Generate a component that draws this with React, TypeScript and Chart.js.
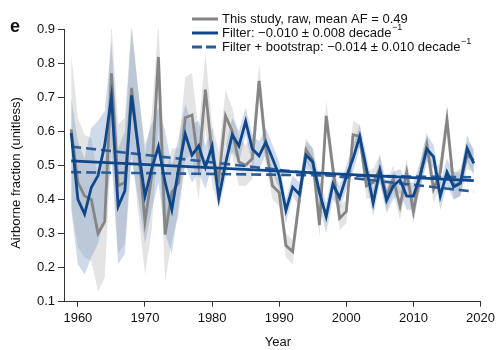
import React, { useEffect, useRef } from 'react';
import { Chart, registerables } from 'chart.js';

Chart.register(...registerables);

const years = [
  1959, 1960, 1961, 1962, 1963, 1964, 1965, 1966, 1967, 1968, 1969,
  1970, 1971, 1972, 1973, 1974, 1975, 1976, 1977, 1978, 1979,
  1980, 1981, 1982, 1983, 1984, 1985, 1986, 1987, 1988, 1989,
  1990, 1991, 1992, 1993, 1994, 1995, 1996, 1997, 1998, 1999,
  2000, 2001, 2002, 2003, 2004, 2005, 2006, 2007, 2008, 2009,
  2010, 2011, 2012, 2013, 2014, 2015, 2016, 2017, 2018, 2019,
];

const rawAF = [
  0.606, 0.45, 0.41, 0.40, 0.30, 0.335, 0.77, 0.44, 0.45, 0.727, 0.55,
  0.335, 0.47, 0.818, 0.297, 0.42, 0.45, 0.64, 0.648, 0.50, 0.722,
  0.53, 0.46, 0.645, 0.60, 0.51, 0.50, 0.52, 0.748, 0.55, 0.44,
  0.42, 0.265, 0.247, 0.40, 0.545, 0.515, 0.325, 0.645, 0.49, 0.345,
  0.365, 0.59, 0.585, 0.44, 0.45, 0.49, 0.41, 0.46, 0.38, 0.48,
  0.364, 0.47, 0.56, 0.43, 0.48, 0.634, 0.44, 0.45, 0.53, 0.515,
];
const rawUpper = [
  0.83, 0.64, 0.59, 0.58, 0.46, 0.52, 0.92, 0.62, 0.64, 0.92, 0.72,
  0.53, 0.65, 0.92, 0.47, 0.55, 0.55, 0.76, 0.77, 0.60, 0.83,
  0.62, 0.54, 0.72, 0.67, 0.58, 0.56, 0.58, 0.80, 0.60, 0.48,
  0.46, 0.30, 0.28, 0.44, 0.58, 0.55, 0.36, 0.69, 0.53, 0.38,
  0.40, 0.63, 0.62, 0.48, 0.49, 0.53, 0.45, 0.50, 0.42, 0.52,
  0.40, 0.51, 0.60, 0.47, 0.52, 0.68, 0.48, 0.49, 0.57, 0.55,
];
const rawLower = [
  0.38, 0.26, 0.23, 0.22, 0.13, 0.17, 0.56, 0.24, 0.27, 0.55, 0.36,
  0.18, 0.31, 0.62, 0.16, 0.28, 0.35, 0.52, 0.53, 0.40, 0.61,
  0.44, 0.38, 0.56, 0.53, 0.44, 0.44, 0.46, 0.69, 0.50, 0.40,
  0.38, 0.23, 0.21, 0.36, 0.51, 0.48, 0.29, 0.60, 0.45, 0.31,
  0.33, 0.55, 0.55, 0.40, 0.41, 0.45, 0.37, 0.42, 0.34, 0.44,
  0.33, 0.43, 0.52, 0.39, 0.44, 0.59, 0.40, 0.41, 0.49, 0.48,
];

const filterAF = [
  0.595, 0.40, 0.357, 0.435, 0.47, 0.56, 0.70, 0.38, 0.425, 0.705, 0.55,
  0.41, 0.49, 0.555, 0.45, 0.37, 0.49, 0.592, 0.53, 0.557, 0.495,
  0.556, 0.405, 0.505, 0.59, 0.557, 0.629, 0.548, 0.528, 0.568, 0.52,
  0.47, 0.368, 0.436, 0.415, 0.53, 0.51, 0.42, 0.35, 0.445, 0.405,
  0.467, 0.52, 0.585, 0.49, 0.39, 0.485, 0.397, 0.44, 0.457, 0.41,
  0.41, 0.47, 0.548, 0.525, 0.41, 0.48, 0.437, 0.447, 0.55, 0.506,
];
const filterUpper = [
  0.70, 0.57, 0.52, 0.61, 0.63, 0.66, 0.86, 0.55, 0.60, 0.90, 0.72,
  0.56, 0.62, 0.67, 0.60, 0.50, 0.58, 0.68, 0.62, 0.63, 0.56,
  0.61, 0.45, 0.55, 0.64, 0.60, 0.67, 0.59, 0.57, 0.61, 0.56,
  0.51, 0.40, 0.47, 0.45, 0.57, 0.55, 0.46, 0.39, 0.48, 0.44,
  0.50, 0.56, 0.62, 0.53, 0.43, 0.53, 0.43, 0.48, 0.49, 0.45,
  0.45, 0.51, 0.59, 0.56, 0.45, 0.52, 0.48, 0.48, 0.59, 0.54,
];
const filterLower = [
  0.37, 0.21, 0.18, 0.23, 0.27, 0.35, 0.52, 0.21, 0.24, 0.52, 0.40,
  0.27, 0.37, 0.45, 0.30, 0.24, 0.38, 0.50, 0.45, 0.48, 0.43,
  0.50, 0.37, 0.46, 0.54, 0.51, 0.59, 0.50, 0.49, 0.53, 0.48,
  0.43, 0.33, 0.41, 0.38, 0.49, 0.47, 0.38, 0.30, 0.40, 0.37,
  0.43, 0.48, 0.55, 0.45, 0.35, 0.45, 0.36, 0.40, 0.42, 0.37,
  0.37, 0.43, 0.51, 0.49, 0.37, 0.44, 0.40, 0.41, 0.51, 0.47,
];

const trendYears = [1959, 2019];
const trendFilter = [0.513, 0.455];
const trendBootUpper = [0.555, 0.423];
const trendBootLower = [0.480, 0.465];

const xTicks = [1960, 1970, 1980, 1990, 2000, 2010, 2020];
const yTicks = [0.1, 0.2, 0.3, 0.4, 0.5, 0.6, 0.7, 0.8, 0.9];

const legendLabels = [
  'This study, raw, mean AF = 0.49',
  'Filter: \u22120.010 \u00b1 0.008 decade',
  'Filter + bootstrap: \u22120.014 \u00b1 0.010 decade',
];

const FONT = '"Liberation Sans", Arial, Helvetica, sans-serif';
const BLUE = '#0f478b';
const BLUE_DASH = '#2a5c9c';
const GRAY = '#858585';

const pts = (xs: number[], ys: number[]) => xs.map((x, i) => ({ x, y: ys[i] }));

const annotations = {
  id: 'annotations',
  afterDraw(chart: any) {
    const ctx = chart.ctx as CanvasRenderingContext2D;
    ctx.save();
    ctx.fillStyle = '#111';
    // panel letter
    ctx.font = `bold 18px ${FONT}`;
    ctx.textAlign = 'left';
    ctx.textBaseline = 'alphabetic';
    ctx.fillText('e', 10, 32);
    // axis titles
    ctx.font = `13px ${FONT}`;
    ctx.textAlign = 'center';
    ctx.textBaseline = 'middle';
    ctx.fillText('Year', 278, 342);
    ctx.save();
    ctx.translate(16, 173);
    ctx.rotate(-Math.PI / 2);
    ctx.fillText('Airborne fraction (unitless)', 0, 0);
    ctx.restore();
    // legend
    const rows = [19, 33, 47];
    const styles = [
      { color: GRAY, dash: [] as number[], w: 3 },
      { color: BLUE, dash: [] as number[], w: 3 },
      { color: BLUE_DASH, dash: [10, 4], w: 3 },
    ];
    rows.forEach((y, i) => {
      const s = styles[i];
      ctx.beginPath();
      ctx.setLineDash(s.dash);
      ctx.strokeStyle = s.color;
      ctx.lineWidth = s.w;
      ctx.moveTo(192, y);
      ctx.lineTo(218, y);
      ctx.stroke();
      ctx.setLineDash([]);
      ctx.font = `13px ${FONT}`;
      ctx.textAlign = 'left';
      ctx.textBaseline = 'middle';
      ctx.fillStyle = '#111';
      const t = legendLabels[i];
      ctx.fillText(t, 222, y);
      if (i > 0) {
        const w = ctx.measureText(t).width;
        ctx.font = `9px ${FONT}`;
        ctx.fillText('\u22121', 222 + w + 0.5, y - 5);
      }
    });
    ctx.restore();
  },
};

export default function App() {
  const ref = useRef<HTMLCanvasElement>(null);
  useEffect(() => {
    if (!ref.current) return;
    const chart = new Chart(ref.current, {
      type: 'line',
      data: {
        datasets: [
          {
            label: 'raw upper',
            data: pts(years, rawUpper),
            borderWidth: 0,
            pointRadius: 0,
            fill: '+1',
            backgroundColor: 'rgb(228,228,228)',
            order: 5,
          },
          {
            label: 'raw lower',
            data: pts(years, rawLower),
            borderWidth: 0,
            pointRadius: 0,
            fill: false,
            order: 5,
          },
          {
            label: 'filter upper',
            data: pts(years, filterUpper),
            borderWidth: 0,
            pointRadius: 0,
            fill: '+1',
            backgroundColor: 'rgba(95,135,185,0.30)',
            order: 4,
          },
          {
            label: 'filter lower',
            data: pts(years, filterLower),
            borderWidth: 0,
            pointRadius: 0,
            fill: false,
            order: 4,
          },
          {
            label: 'raw',
            data: pts(years, rawAF),
            borderColor: GRAY,
            borderWidth: 2.8,
            pointRadius: 0,
            fill: false,
            order: 3,
          },
          {
            label: 'boot upper',
            data: pts(trendYears, trendBootUpper),
            borderColor: BLUE_DASH,
            borderWidth: 2.6,
            borderDash: [10, 5],
            pointRadius: 0,
            fill: false,
            order: 2,
          },
          {
            label: 'boot lower',
            data: pts(trendYears, trendBootLower),
            borderColor: BLUE_DASH,
            borderWidth: 2.6,
            borderDash: [10, 5],
            pointRadius: 0,
            fill: false,
            order: 2,
          },
          {
            label: 'filter trend',
            data: pts(trendYears, trendFilter),
            borderColor: BLUE,
            borderWidth: 2.8,
            pointRadius: 0,
            fill: false,
            order: 1,
          },
          {
            label: 'filter',
            data: pts(years, filterAF),
            borderColor: BLUE,
            borderWidth: 2.8,
            pointRadius: 0,
            fill: false,
            order: 0,
          },
        ],
      },
      options: {
        animation: false,
        responsive: false,
        maintainAspectRatio: false,
        layout: { padding: { left: 0, right: 16, top: 29, bottom: 0 } },
        elements: { line: { tension: 0 } },
        plugins: {
          legend: { display: false },
          tooltip: { enabled: false },
        },
        scales: {
          x: {
            type: 'linear',
            min: 1957.93,
            max: 2020,
            afterFit: (s: any) => {
              s.height = 48.3;
            },
            afterBuildTicks: (s: any) => {
              s.ticks = xTicks.map((v) => ({ value: v }));
            },
            grid: {
              display: true,
              drawOnChartArea: false,
              drawTicks: true,
              tickLength: 5,
              color: '#333',
              lineWidth: 1,
            },
            border: { display: true, color: '#333', width: 1 },
            ticks: {
              color: '#111',
              font: { size: 13, family: FONT },
              padding: 4,
              maxRotation: 0,
              autoSkip: false,
              callback: (v: any) => String(v),
            },
          },
          y: {
            type: 'linear',
            min: 0.1,
            max: 0.9,
            afterFit: (s: any) => {
              s.width = 64;
            },
            afterBuildTicks: (s: any) => {
              s.ticks = yTicks.map((v) => ({ value: v }));
            },
            grid: {
              display: true,
              drawOnChartArea: false,
              drawTicks: true,
              tickLength: 6,
              color: '#333',
              lineWidth: 1,
            },
            border: { display: true, color: '#333', width: 1 },
            ticks: {
              color: '#111',
              font: { size: 13, family: FONT },
              padding: 3,
              autoSkip: false,
              callback: (v: any) => Number(v).toFixed(1),
            },
          },
        },
      },
      plugins: [annotations],
    });
    return () => chart.destroy();
  }, []);
  return (
    <div style={{ position: 'absolute', left: 0, top: 0, width: 499, height: 350, background: '#fff' }}>
      <canvas ref={ref} width={499} height={350} style={{ width: 499, height: 350, display: 'block' }} />
    </div>
  );
}
